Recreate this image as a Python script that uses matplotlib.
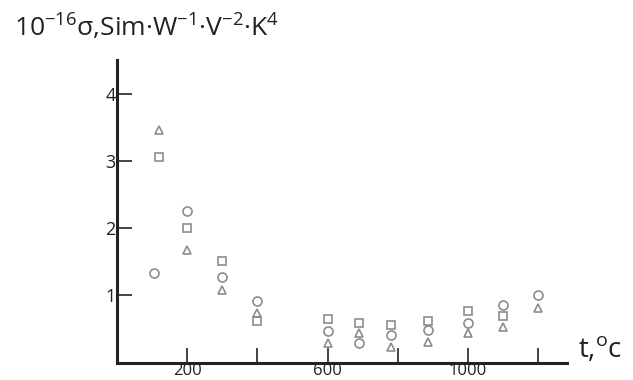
import matplotlib
matplotlib.use("Agg")
import matplotlib.pyplot as plt

# Data
t_circle = [106, 200, 300, 400, 600, 690, 780, 885, 1000, 1100, 1200]
sig_circle = [1.32, 2.25, 1.26, 0.91, 0.45, 0.28, 0.40, 0.47, 0.58, 0.85, 1.00]
t_square = [120, 200, 300, 400, 600, 690, 780, 885, 1000, 1100]
sig_square = [3.06, 2.00, 1.50, 0.60, 0.64, 0.58, 0.55, 0.61, 0.75, 0.68]
t_tri = [120, 200, 300, 400, 600, 690, 780, 885, 1000, 1100, 1200]
sig_tri = [3.46, 1.67, 1.07, 0.73, 0.28, 0.43, 0.22, 0.30, 0.43, 0.52, 0.80]

x_ticks = [200, 400, 600, 800, 1000, 1200]
x_labels = ["200", "", "600", "", "1000", ""]
y_ticks = [1, 2, 3, 4]
y_labels = ["1", "2", "3", "4"]

plt.rcParams['font.family'] = ['Open Sans', 'DejaVu Sans']
plt.rcParams['mathtext.fontset'] = 'custom'
plt.rcParams['mathtext.rm'] = 'Open Sans'
plt.rcParams['mathtext.it'] = 'Open Sans'

fig = plt.figure(figsize=(6.33, 3.8), dpi=100)
ax = fig.add_axes([117/633, 17/380, 450/633, 303/380])

mc = '#8c8c8c'
ax.plot(t_circle, sig_circle, 'o', ms=6.5, mfc='none', mec=mc, mew=1.2, clip_on=False)
ax.plot(t_square, sig_square, 's', ms=6.2, mfc='none', mec=mc, mew=1.2, clip_on=False)
ax.plot(t_tri, sig_tri, '^', ms=6.2, mfc='none', mec=mc, mew=1.2, clip_on=False)

ax.set_xlim(0, 1282)
ax.set_ylim(-0.02, 4.5)
for s in ['top', 'right']:
    ax.spines[s].set_visible(False)
for s in ['left', 'bottom']:
    ax.spines[s].set_linewidth(2.2)
    ax.spines[s].set_color('#222222')

ax.set_xticks(x_ticks)
ax.set_xticklabels(x_labels)
ax.set_yticks(y_ticks)
ax.set_yticklabels(y_labels)
ax.tick_params(axis='x', direction='in', length=11, width=1.4, color='#444444',
               labelsize=12, pad=0, labelcolor='#222222')
ax.tick_params(axis='y', direction='in', length=11, width=1.4, color='#444444',
               labelsize=13, pad=1, labelcolor='#222222')

fig.text(14/633, 1 - 37/380,
         r'10$^{-16}$σ,Sim·W$^{-1}$·V$^{-2}$·K$^{4}$',
         fontsize=19, color='#222222', ha='left', va='baseline')
fig.text(578/633, 1 - 357/380, r't,$^{\mathrm{o}}$c', fontsize=20,
         color='#222222', ha='left', va='baseline')

fig.savefig('out.png', dpi=100)
